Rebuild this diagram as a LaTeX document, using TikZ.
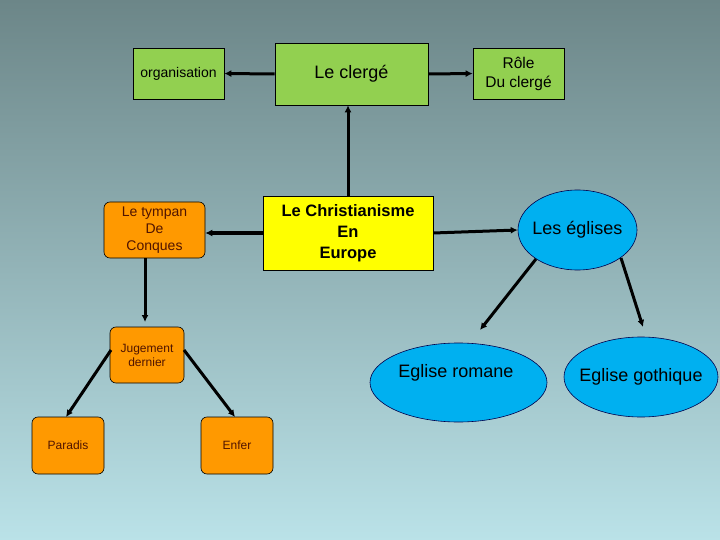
\documentclass[tikz,border=0pt]{standalone}
\usepackage{fontspec}
\setmainfont{Liberation Sans}
\usetikzlibrary{shapes.geometric,arrows.meta}
\definecolor{bgtop}{RGB}{108,134,136}
\definecolor{bgbot}{RGB}{186,226,232}
\definecolor{grn}{RGB}{146,208,80}
\definecolor{yel}{RGB}{255,255,0}
\definecolor{org}{RGB}{255,153,0}
\definecolor{blu}{RGB}{0,176,240}
\definecolor{brn}{RGB}{80,20,0}
\begin{document}
\begin{tikzpicture}[x=1pt,y=-1pt,
  gbox/.style={draw=black,line width=0.6pt,fill=grn,inner sep=0pt,align=center},
  obox/.style={draw=black,line width=0.6pt,fill=org,rounded corners=6pt,inner sep=0pt,align=center,text=brn,font=\fontsize{12}{14}\selectfont},
  bell/.style={draw=black!70!blue,line width=0.6pt,fill=blu,ellipse,inner sep=0pt},
  btext/.style={font=\fontsize{18}{21}\selectfont,inner sep=0pt},
  arr/.style={line width=3pt,-{Latex[length=7pt,width=7pt]}}]
\shade[top color=bgtop,bottom color=bgbot] (0,0) rectangle (720,540);
\useasboundingbox (0,0) rectangle (720,540);
% green boxes
\node[gbox,minimum width=91pt,minimum height=51pt,font=\fontsize{14}{16}\selectfont] (org) at (178.5,73.5) {organisation};
\node[gbox,minimum width=153pt,minimum height=62pt,font=\fontsize{18}{21}\selectfont] (cle) at (351.5,74) {Le clergé};
\node[gbox,minimum width=91pt,minimum height=51pt,font=\fontsize{15.5}{19}\selectfont] (role) at (518.5,73.5) {Rôle\\Du clergé};
% yellow
\node[draw=black,line width=0.6pt,fill=yel,minimum width=170pt,minimum height=74pt,inner sep=0pt,align=center,font=\bfseries\fontsize{16.5}{21}\selectfont] (chr) at (348,233) {Le Christianisme\\En\\Europe};
% orange
\node[obox,minimum width=101pt,minimum height=56pt,font=\fontsize{14}{17}\selectfont] (tym) at (154.5,230) {Le tympan\\De\\Conques};
\node[obox,minimum width=74pt,minimum height=56pt] (jug) at (147,355) {Jugement\\dernier};
\node[obox,minimum width=72pt,minimum height=57pt] (par) at (68,445.5) {Paradis};
\node[obox,minimum width=72pt,minimum height=57pt] (enf) at (237,445.5) {Enfer};
% blue ellipses
\node[bell,minimum width=119pt,minimum height=80pt] (egl) at (577.5,230) {};
\node[btext] (eglt) at (egl) {Les églises};
\node[bell,minimum width=177pt,minimum height=79pt] (rom) at (458.5,382.5) {};
\node[btext] (romt) at (456,373) {Eglise romane};
\node[bell,minimum width=154pt,minimum height=80pt] (got) at (641,377) {};
\node[btext] (gott) at (got) {Eglise gothique};
% arrows
\coordinate (tymb) at (145,258);
\coordinate (jugt) at (145,322);
\draw[arr] (cle.west) -- (org.east);
\draw[arr] (cle.east) -- (role.west);
\draw[arr] (chr.north) -- (chr.north |- cle.south);
\draw[arr] (chr.west) -- (chr.west -| tym.east);
\draw[arr] (chr.east) -- (egl.west);
\draw[arr] (tymb) -- (jugt);
\draw[arr] (111,350) -- (66,417);
\draw[arr] (184,350) -- (235,417);
\draw[arr] (536,259) -- (480,330);
\draw[arr] (621,258) -- (643,327);
\end{tikzpicture}
\end{document}
